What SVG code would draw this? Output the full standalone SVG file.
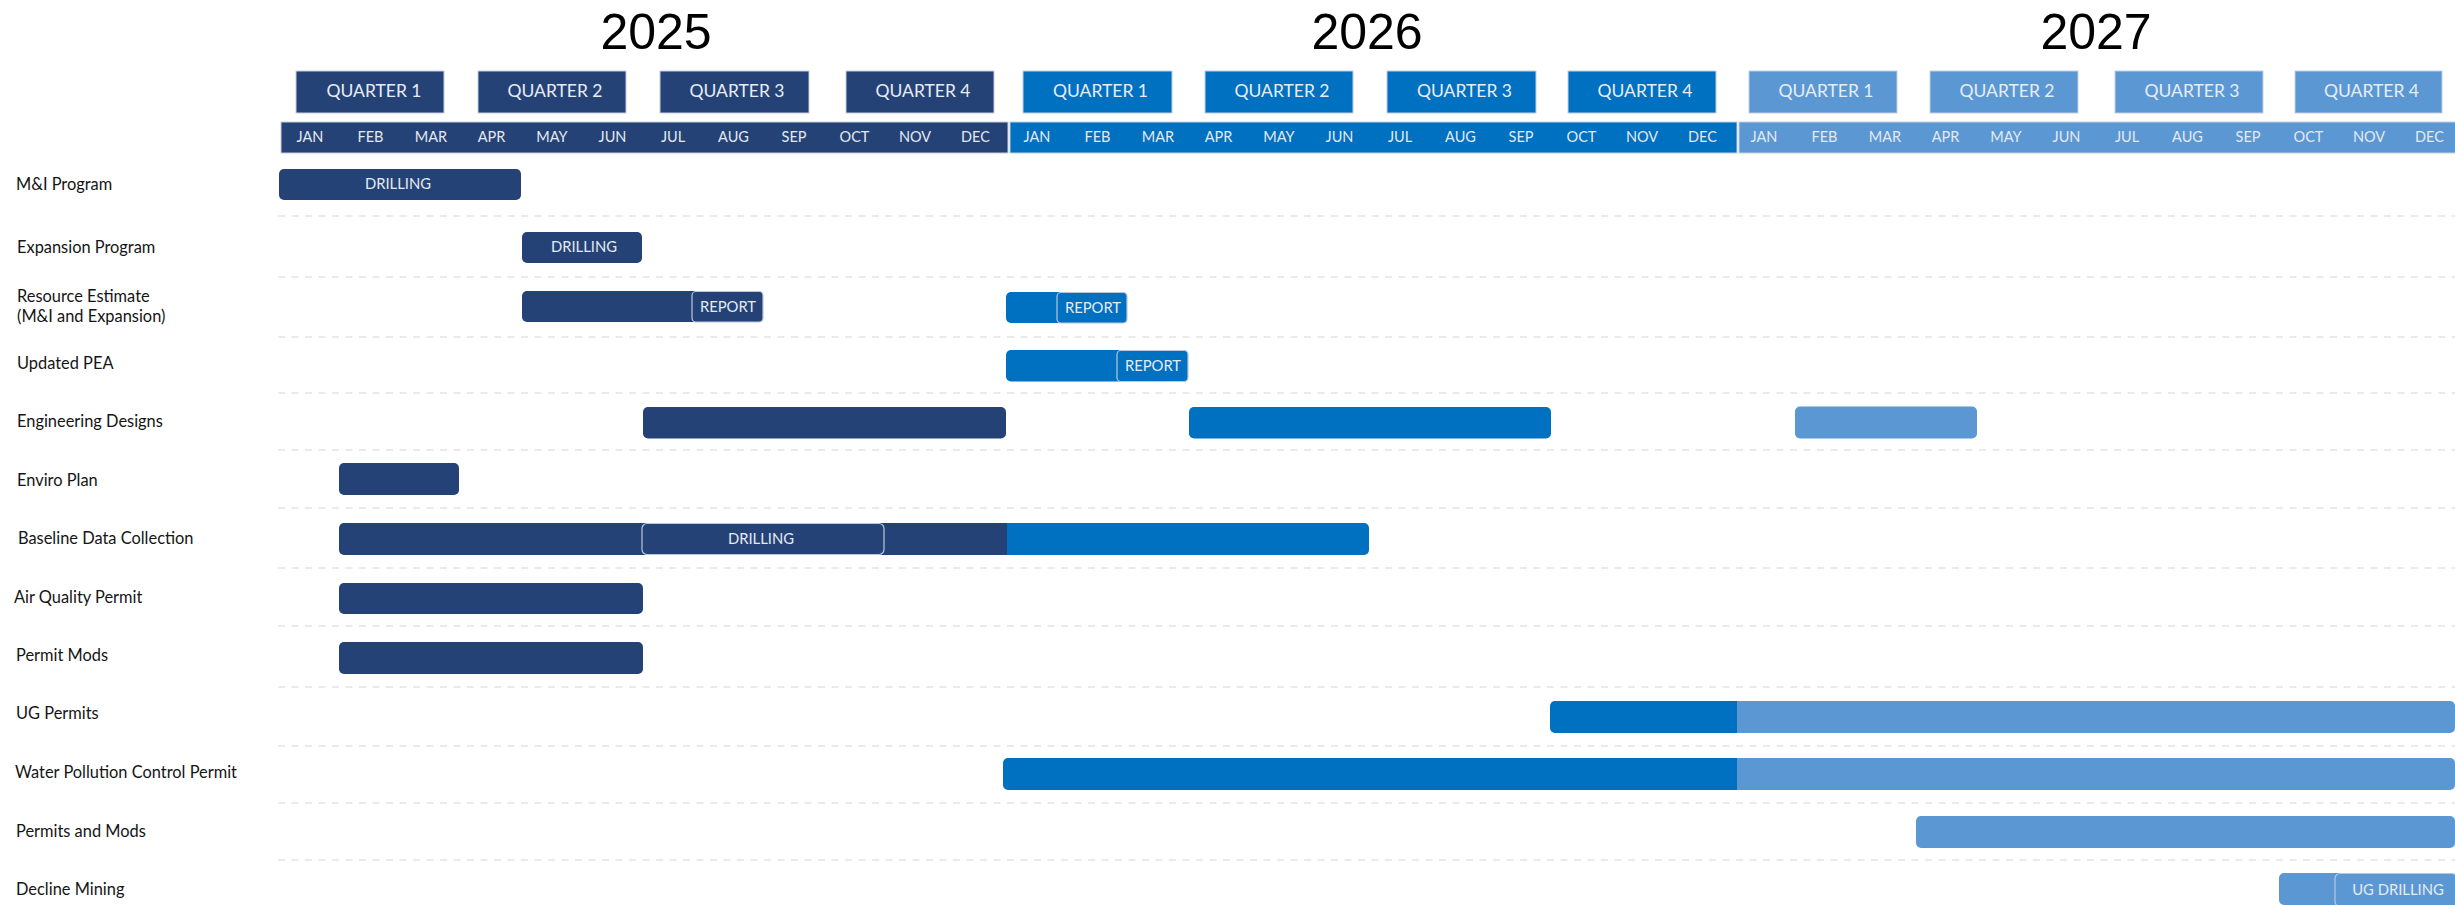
<svg xmlns="http://www.w3.org/2000/svg" width="2455" height="905" viewBox="0 0 2455 905">
<style>
.year{font-family:"Liberation Sans",Arial,sans-serif;font-size:50px;fill:#000;text-anchor:middle}
.q{stroke:#c4cde0;stroke-width:1}
.qt{font-family:Lato,"Noto Sans",sans-serif;font-size:17.5px;fill:#e8edf5;text-anchor:middle}
.mt{font-family:Lato,"Noto Sans",sans-serif;font-size:14.5px;fill:#e3e9f2;text-anchor:middle}
.lbl{font-family:Lato,"Noto Sans",sans-serif;font-size:16.4px;fill:#151515}
.bt{font-family:Lato,"Noto Sans",sans-serif;font-size:14.8px;fill:#e6ebf3;text-anchor:middle}
.d{fill:#244275}
.b{fill:#0070c0}
.l{fill:#5b98d3}
.box{stroke:#b9c6dc;stroke-width:1.2}
.grid line{stroke:#e4e4e4;stroke-width:1.5;stroke-dasharray:7 6.5}
</style>
<rect width="2455" height="905" fill="#fff"/>

<g id="gridlines" class="grid">
<line x1="278" y1="216" x2="2455" y2="216"/>
<line x1="278" y1="277" x2="2455" y2="277"/>
<line x1="278" y1="337" x2="2455" y2="337"/>
<line x1="278" y1="393" x2="2455" y2="393"/>
<line x1="278" y1="450" x2="2455" y2="450"/>
<line x1="278" y1="508" x2="2455" y2="508"/>
<line x1="278" y1="568" x2="2455" y2="568"/>
<line x1="278" y1="626" x2="2455" y2="626"/>
<line x1="278" y1="687" x2="2455" y2="687"/>
<line x1="278" y1="746" x2="2455" y2="746"/>
<line x1="278" y1="803" x2="2455" y2="803"/>
<line x1="278" y1="860" x2="2455" y2="860"/>
</g>

<g id="header-2025">
<text class="year" x="656" y="49">2025</text>
<rect class="d q" x="296" y="71" width="148" height="42"/>
<rect class="d q" x="478" y="71" width="148" height="42"/>
<rect class="d q" x="660" y="71" width="149" height="42"/>
<rect class="d q" x="846" y="71" width="148" height="42"/>
<text class="qt" x="374" y="97">QUARTER 1</text>
<text class="qt" x="555" y="97">QUARTER 2</text>
<text class="qt" x="737" y="97">QUARTER 3</text>
<text class="qt" x="923" y="97">QUARTER 4</text>
<rect class="d q" x="281" y="122" width="727" height="31"/>
<text class="mt" x="310" y="142">JAN</text>
<text class="mt" x="370.5" y="142">FEB</text>
<text class="mt" x="431" y="142">MAR</text>
<text class="mt" x="491.5" y="142">APR</text>
<text class="mt" x="552" y="142">MAY</text>
<text class="mt" x="612.5" y="142">JUN</text>
<text class="mt" x="673" y="142">JUL</text>
<text class="mt" x="733.5" y="142">AUG</text>
<text class="mt" x="794" y="142">SEP</text>
<text class="mt" x="854.5" y="142">OCT</text>
<text class="mt" x="915" y="142">NOV</text>
<text class="mt" x="975.5" y="142">DEC</text>
</g>

<g id="header-2026">
<text class="year" x="1367" y="49">2026</text>
<rect class="b q" x="1023" y="71" width="149" height="42"/>
<rect class="b q" x="1205" y="71" width="148" height="42"/>
<rect class="b q" x="1387" y="71" width="149" height="42"/>
<rect class="b q" x="1568" y="71" width="148" height="42"/>
<text class="qt" x="1100.5" y="97">QUARTER 1</text>
<text class="qt" x="1282" y="97">QUARTER 2</text>
<text class="qt" x="1464.5" y="97">QUARTER 3</text>
<text class="qt" x="1645" y="97">QUARTER 4</text>
<rect class="b q" x="1010" y="122" width="727" height="31"/>
<text class="mt" x="1037" y="142">JAN</text>
<text class="mt" x="1097.5" y="142">FEB</text>
<text class="mt" x="1158" y="142">MAR</text>
<text class="mt" x="1218.5" y="142">APR</text>
<text class="mt" x="1279" y="142">MAY</text>
<text class="mt" x="1339.5" y="142">JUN</text>
<text class="mt" x="1400" y="142">JUL</text>
<text class="mt" x="1460.5" y="142">AUG</text>
<text class="mt" x="1521" y="142">SEP</text>
<text class="mt" x="1581.5" y="142">OCT</text>
<text class="mt" x="1642" y="142">NOV</text>
<text class="mt" x="1702.5" y="142">DEC</text>
</g>

<g id="header-2027">
<text class="year" x="2096" y="49">2027</text>
<rect class="l q" x="1749" y="71" width="148" height="42"/>
<rect class="l q" x="1930" y="71" width="148" height="42"/>
<rect class="l q" x="2115" y="71" width="148" height="42"/>
<rect class="l q" x="2295" y="71" width="147" height="42"/>
<text class="qt" x="1826" y="97">QUARTER 1</text>
<text class="qt" x="2007" y="97">QUARTER 2</text>
<text class="qt" x="2192" y="97">QUARTER 3</text>
<text class="qt" x="2371.5" y="97">QUARTER 4</text>
<rect class="l q" x="1739" y="122" width="730" height="31"/>
<text class="mt" x="1764" y="142">JAN</text>
<text class="mt" x="1824.5" y="142">FEB</text>
<text class="mt" x="1885" y="142">MAR</text>
<text class="mt" x="1945.5" y="142">APR</text>
<text class="mt" x="2006" y="142">MAY</text>
<text class="mt" x="2066.5" y="142">JUN</text>
<text class="mt" x="2127" y="142">JUL</text>
<text class="mt" x="2187.5" y="142">AUG</text>
<text class="mt" x="2248" y="142">SEP</text>
<text class="mt" x="2308.5" y="142">OCT</text>
<text class="mt" x="2369" y="142">NOV</text>
<text class="mt" x="2429.5" y="142">DEC</text>
</g>

<g id="row-mi-program">
<text class="lbl" x="16" y="190">M&amp;I Program</text>
<rect class="d" x="279" y="169" width="242" height="31" rx="5"/>
<text class="bt" x="398" y="189">DRILLING</text>
</g>

<g id="row-expansion-program">
<text class="lbl" x="17" y="253">Expansion Program</text>
<rect class="d" x="522" y="232" width="120" height="31" rx="5"/>
<text class="bt" x="584" y="252">DRILLING</text>
</g>

<g id="row-resource-estimate">
<text class="lbl" x="17" y="302">Resource Estimate</text>
<text class="lbl" x="17" y="322">(M&amp;I and Expansion)</text>
<rect class="d" x="522" y="291" width="241" height="31" rx="5"/>
<rect class="d box" x="692" y="291.5" width="71" height="30.5" rx="4"/>
<text class="bt" x="728" y="312">REPORT</text>
<rect class="b" x="1006" y="292" width="121" height="31" rx="5"/>
<rect class="b box" x="1057" y="292.5" width="70" height="30.5" rx="4"/>
<text class="bt" x="1093" y="313">REPORT</text>
</g>

<g id="row-updated-pea">
<text class="lbl" x="17" y="369">Updated PEA</text>
<rect class="b" x="1006" y="350" width="182" height="31.5" rx="5"/>
<rect class="b box" x="1117" y="350.5" width="71" height="31" rx="4"/>
<text class="bt" x="1153" y="371">REPORT</text>
</g>

<g id="row-engineering-designs">
<text class="lbl" x="17" y="427">Engineering Designs</text>
<rect class="d" x="643" y="407" width="363" height="31.5" rx="5"/>
<rect class="b" x="1189" y="407" width="362" height="31.5" rx="5"/>
<rect class="l" x="1795" y="406.5" width="182" height="32" rx="5"/>
</g>

<g id="row-enviro-plan">
<text class="lbl" x="17" y="486">Enviro Plan</text>
<rect class="d" x="339" y="463" width="120" height="32" rx="5"/>
</g>

<g id="row-baseline-data-collection">
<text class="lbl" x="18" y="544">Baseline Data Collection</text>
<path class="d" d="M344,523 H1007 V555 H344 A5 5 0 0 1 339 550 V528 A5 5 0 0 1 344 523 Z"/>
<path class="b" d="M1007,523 H1364 A5 5 0 0 1 1369 528 V550 A5 5 0 0 1 1364 555 H1007 Z"/>
<rect class="d box" x="642" y="523.5" width="242" height="31" rx="5"/>
<text class="bt" x="761" y="544">DRILLING</text>
</g>

<g id="row-air-quality-permit">
<text class="lbl" x="14" y="603">Air Quality Permit</text>
<rect class="d" x="339" y="583" width="304" height="31" rx="5"/>
</g>

<g id="row-permit-mods">
<text class="lbl" x="16" y="661">Permit Mods</text>
<rect class="d" x="339" y="642" width="304" height="32" rx="5"/>
</g>

<g id="row-ug-permits">
<text class="lbl" x="16" y="719">UG Permits</text>
<path class="b" d="M1555,701 H1737 V733 H1555 A5 5 0 0 1 1550 728 V706 A5 5 0 0 1 1555 701 Z"/>
<path class="l" d="M1737,701 H2450 A5 5 0 0 1 2455 706 V728 A5 5 0 0 1 2450 733 H1737 Z"/>
</g>

<g id="row-water-pollution-control-permit">
<text class="lbl" x="15" y="778">Water Pollution Control Permit</text>
<path class="b" d="M1008,758 H1737 V790 H1008 A5 5 0 0 1 1003 785 V763 A5 5 0 0 1 1008 758 Z"/>
<path class="l" d="M1737,758 H2450 A5 5 0 0 1 2455 763 V785 A5 5 0 0 1 2450 790 H1737 Z"/>
</g>

<g id="row-permits-and-mods">
<text class="lbl" x="16" y="837">Permits and Mods</text>
<rect class="l" x="1916" y="816" width="539" height="32" rx="5"/>
</g>

<g id="row-decline-mining">
<text class="lbl" x="16" y="895">Decline Mining</text>
<rect class="l" x="2279" y="873" width="176" height="32" rx="5"/>
<rect class="l box" x="2335" y="873.5" width="122" height="33" rx="5"/>
<text class="bt" x="2398" y="895">UG DRILLING</text>
</g>
</svg>
